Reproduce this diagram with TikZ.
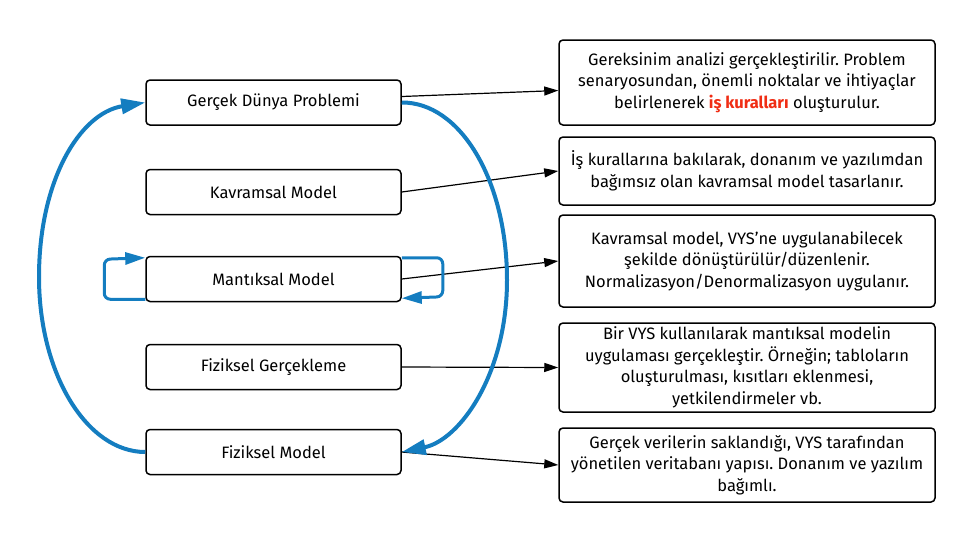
\documentclass[tikz,border=0pt]{standalone}
\usepackage{fontspec}
\setmainfont{Fira Sans}
\frenchspacing
\usetikzlibrary{arrows.meta,calc}
\definecolor{myblue}{RGB}{20,125,192}
\definecolor{myred}{RGB}{240,45,20}
\begin{document}
\begin{tikzpicture}[x=1pt,y=-1pt,
 lbox/.style={draw, line width=1.5pt, rounded corners=4pt, minimum width=255pt, minimum height=45pt, inner sep=0pt, font=\fontsize{16.5}{20}\selectfont},
 rbox/.style={draw, line width=1.5pt, rounded corners=4pt, minimum width=376pt, align=center, inner sep=0pt, font=\fontsize{16.5}{21.5}\selectfont},
 blk/.style={-{Triangle[length=14pt,width=9pt]}, line width=1.2pt},
 blu/.style={-{Triangle[length=24pt,width=15pt]}, line width=4pt, draw=myblue, fill=none},
 blul/.style={-{Triangle[length=20pt,width=12pt]}, line width=3pt, draw=myblue, fill=none, rounded corners=6pt}
]
\useasboundingbox (0,0) rectangle (975,542);
\node[lbox] (gd) at (273.5,102.5) {Gerçek Dünya Problemi};
\node[lbox] (km) at (273.5,192) {Kavramsal Model};
\node[lbox] (mm) at (273.5,279) {Mantıksal Model};
\node[lbox] (fg) at (273.5,367) {Fiziksel Gerçekleme};
\node[lbox] (fm) at (273.5,452) {Fiziksel Model};

\node[rbox, minimum height=85pt] (r1) at (747,82.5) {Gereksinim analizi gerçekleştirilir. Problem\\senaryosundan, önemli noktalar ve ihtiyaçlar\\belirlenerek {\color{myred}\bfseries iş kuralları} oluşturulur.};
\node[rbox, minimum height=68pt] (r2) at (747,171) {İş kurallarına bakılarak, donanım ve yazılımdan\\bağımsız olan kavramsal model tasarlanır.};
\node[rbox, minimum height=92pt] (r3) at (747,261) {Kavramsal model, VYS’ne uygulanabilecek\\şekilde dönüştürülür/düzenlenir.\\Normalizasyon/Denormalizasyon uygulanır.};
\node[rbox, minimum height=89pt] (r4) at (747,367.5) {Bir VYS kullanılarak mantıksal modelin\\uygulaması gerçekleştir. Örneğin; tabloların\\oluşturulması, kısıtları eklenmesi,\\yetkilendirmeler vb.};
\node[rbox, minimum height=74pt] (r5) at (747,465) {Gerçek verilerin saklandığı, VYS tarafından\\yönetilen veritabanı yapısı. Donanım ve yazılım\\bağımlı.};

\draw[blk] ($(gd.east)+(0,-6)$) -- ($(r1.west)+(0,8)$);
\draw[blk] (km.east) -- (r2.west);
\draw[blk] (mm.east) -- (r3.west);
\draw[blk] (fg.east) -- (r4.west);
\draw[blk] (fm.east) -- (r5.west);

\coordinate (lm) at (39,277);
\coordinate (rm) at (507,280);
\draw[blu] (fm.west) .. controls (87,452) and (39,374) .. (lm) .. controls (39,180) and (80,113) .. (gd.west);
\draw[blu] (gd.east) .. controls (460,102) and (507,180) .. (rm) .. controls (507,374) and (460,440) .. (fm.east);
\draw[blul] ($(mm.south west)+(0,-3)$) -- ++(-41,0) -- ++(0,-40) -- ($(mm.north west)+(0,2)$);
\draw[blul] ($(mm.north east)+(0,2)$) -- ++(41,0) -- ++(0,39) -- ($(mm.south east)+(0,-4)$);
\end{tikzpicture}
\end{document}
